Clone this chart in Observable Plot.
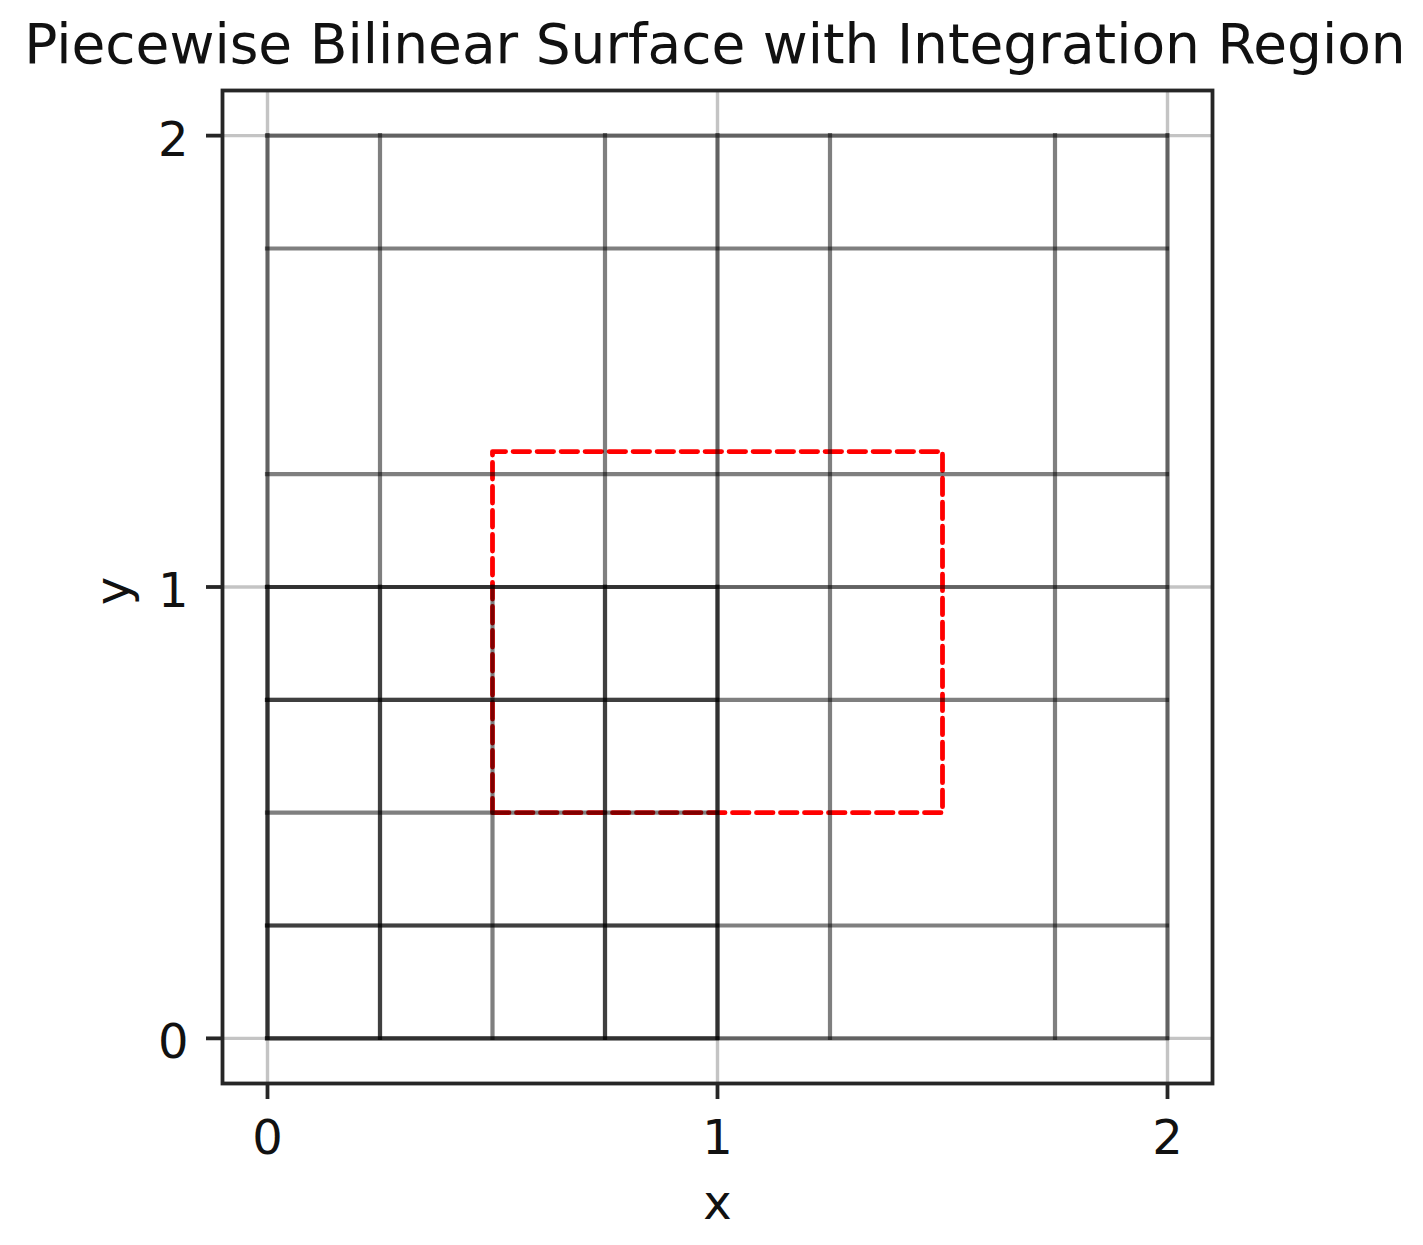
<!DOCTYPE html>
<html>
<head>
<meta charset="utf-8">
<script src="https://cdn.jsdelivr.net/npm/d3@7"></script>
<script src="https://cdn.jsdelivr.net/npm/@observablehq/plot@0.6"></script>
<style>
  html, body { margin: 0; padding: 0; background: #fff; overflow: hidden; }
  #title {
    width: 1430px; height: 88px; line-height: 88px; text-align: center;
    font-family: "DejaVu Sans", sans-serif; font-size: 55px; color: #111; white-space: nowrap;
  }
  #chart svg { display: block; }
</style>
</head>
<body>
<div id="title">Piecewise Bilinear Surface with Integration Region</div>
<div id="chart"></div>
<script>
// ---- data ----
const tickValues = [0, 1, 2];
const xLimits = [-0.1, 2.1];
const yLimits = [-0.1, 2.1];
// full-surface wireframe lines
const surfaceLinesX = [0, 0.25, 0.75, 1, 1.25, 1.75, 2];
const surfaceLinesY = [0, 0.25, 0.75, 1, 1.25, 1.75, 2];
const surfaceExtent = [0, 2];
// lower-left patch wireframe lines
const patchLinesX = [0, 0.25, 0.5, 0.75, 1];
const patchLinesY = [0, 0.25, 0.5, 0.75, 1];
const patchExtent = [0, 1];
// integration region
const regionX = [0.5, 1.5];
const regionY = [0.5, 1.3];

// ---- derived tables ----
const regionPath = [
  {x: regionX[0], y: regionY[0]},
  {x: regionX[1], y: regionY[0]},
  {x: regionX[1], y: regionY[1]},
  {x: regionX[0], y: regionY[1]},
  {x: regionX[0], y: regionY[0]}
];

const font = "DejaVu Sans";
const textColor = "#111";
const frameColor = "#262626";
const wireStyle = {stroke: "black", strokeOpacity: 0.5, strokeWidth: 4.2, strokeLinecap: "square"};

const chart = Plot.plot({
  width: 1423,
  height: 1157,
  marginTop: 2,
  marginBottom: 162,
  marginLeft: 222,
  marginRight: 211,
  style: {fontFamily: font, background: "white", color: textColor},
  x: {domain: xLimits, label: null},
  y: {domain: yLimits, label: null},
  marks: [
    // background grid at ticks
    Plot.ruleX(tickValues, {stroke: "#c4c4c4", strokeWidth: 3.4}),
    Plot.ruleY(tickValues, {stroke: "#c4c4c4", strokeWidth: 3.4}),
    // integration region
    Plot.line(regionPath, {x: "x", y: "y", stroke: "#ff0000", strokeWidth: 4.8, strokeDasharray: "16.5,7.5"}),
    // surface wireframe
    Plot.ruleX(surfaceLinesX, {y1: surfaceExtent[0], y2: surfaceExtent[1], ...wireStyle}),
    Plot.ruleY(surfaceLinesY, {x1: surfaceExtent[0], x2: surfaceExtent[1], ...wireStyle}),
    // patch wireframe
    Plot.ruleX(patchLinesX, {y1: patchExtent[0], y2: patchExtent[1], ...wireStyle}),
    Plot.ruleY(patchLinesY, {x1: patchExtent[0], x2: patchExtent[1], ...wireStyle}),
    // frame and ticks
    Plot.frame({stroke: frameColor, strokeWidth: 3.8}),
    Plot.axisX({ticks: tickValues, tickSize: 16, tickFormat: () => "", label: null, stroke: frameColor, strokeWidth: 3.8}),
    Plot.axisY({ticks: tickValues, tickSize: 16, tickFormat: () => "", label: null, stroke: frameColor, strokeWidth: 3.8}),
    // tick labels
    Plot.text(tickValues, {x: d => d, text: d => String(d), frameAnchor: "bottom", dy: 70, lineAnchor: "bottom",
      fontSize: 48, fill: textColor}),
    Plot.text(tickValues, {y: d => d, text: d => String(d), frameAnchor: "left", dx: -34, dy: 4.5,
      textAnchor: "end", lineAnchor: "middle", fontSize: 48, fill: textColor}),
    // axis labels
    Plot.text(["x"], {text: d => d, frameAnchor: "bottom", dy: 135, lineAnchor: "bottom", fontSize: 48, fill: textColor}),
    Plot.text(["y"], {text: d => d, frameAnchor: "left", dx: -94, dy: 4, rotate: -90, textAnchor: "middle",
      lineAnchor: "bottom", fontSize: 48, fill: textColor})
  ]
});
document.getElementById("chart").appendChild(chart);
</script>
</body>
</html>
